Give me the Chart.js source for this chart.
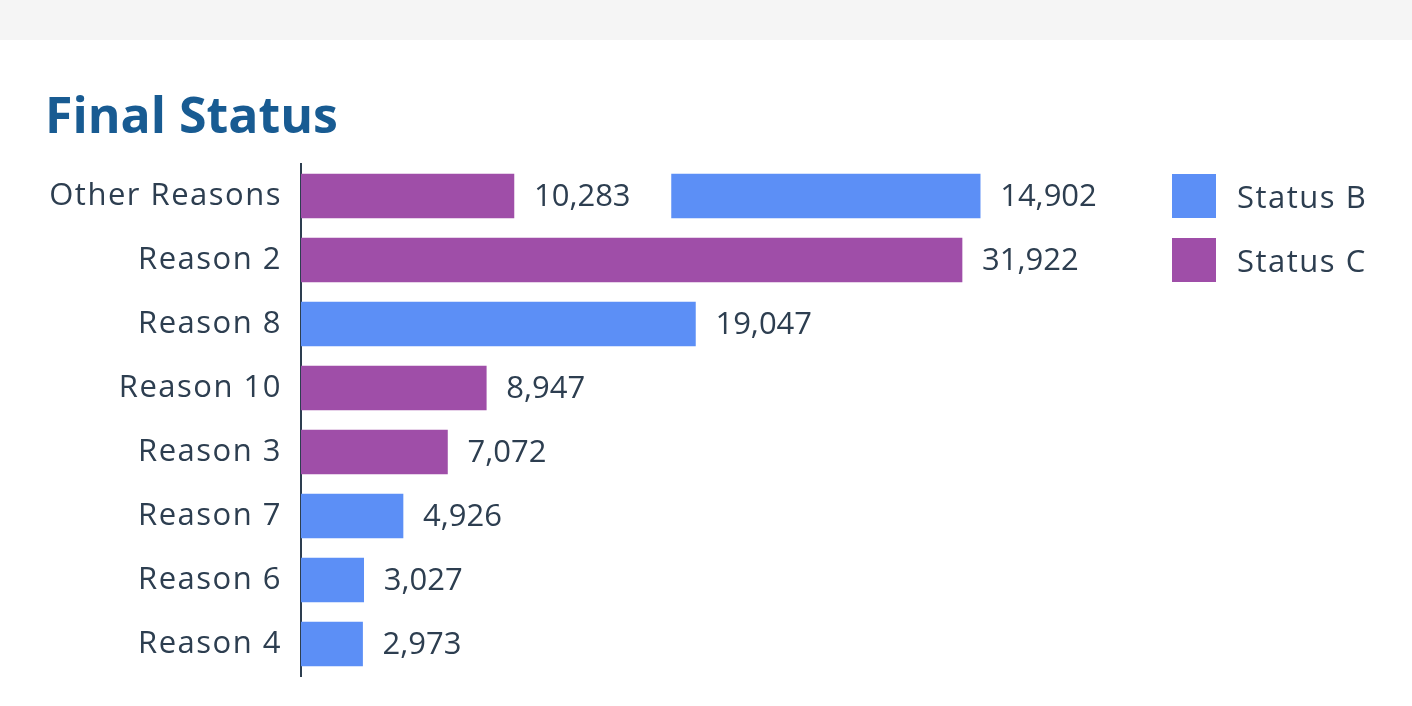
<!DOCTYPE html>
<html>
<head>
<meta charset="utf-8">
<script src="https://cdn.jsdelivr.net/npm/chart.js@4"></script>
<style>
  html, body { margin: 0; padding: 0; background: #fff; }
  body { width: 1412px; height: 706px; position: relative; overflow: hidden; font-family: "Open Sans", sans-serif; }
  .topbar { position: absolute; left: 0; top: 0; width: 1412px; height: 40px; background: #f5f5f5; }
  h1 { position: absolute; left: 45px; top: 89px; margin: 0; font-size: 50px; font-weight: 700; color: #185b92; line-height: 1; }
  #chart { position: absolute; left: 0; top: 0; }
  #legend { position: absolute; left: 1172px; top: 174px; }
  .item { display: flex; align-items: center; height: 44px; margin-bottom: 20px; font-size: 31px; letter-spacing: 1.5px; color: #2d3e50; }
  .swatch { width: 44px; height: 44px; margin-right: 21px; }
</style>
</head>
<body>
<div class="topbar"></div>
<h1>Final Status</h1>
<canvas id="chart" width="1412" height="706"></canvas>
<div id="legend"></div>
<script>
const categories = ['Other Reasons', 'Reason 2', 'Reason 8', 'Reason 10', 'Reason 3', 'Reason 7', 'Reason 6', 'Reason 4'];
const statusB = [14902, null, 19047, null, null, 4926, 3027, 2973];
const statusC = [10283, 31922, null, 8947, 7072, null, null, null];

const textColor = '#2d3e50';
const fontFamily = '"Open Sans", sans-serif';
const valueFont = `31px ${fontFamily}`;
const fmt = v => v.toLocaleString('en-US');

// wider tracking for the category labels, plain for the rest
const tracking = {
    id: 'tracking',
    beforeDraw(chart) { chart.ctx.letterSpacing = '1.5px'; },
    beforeDatasetsDraw(chart) { chart.ctx.letterSpacing = '0px'; }
};

const valueLabels = {
    id: 'valueLabels',
    afterDatasetsDraw(chart) {
        const ctx = chart.ctx;
        ctx.save();
        ctx.font = valueFont;
        ctx.fillStyle = textColor;
        ctx.textBaseline = 'middle';
        ctx.textAlign = 'left';
        chart.data.datasets.forEach((ds, i) => {
            chart.getDatasetMeta(i).data.forEach((bar, j) => {
                const v = ds.values[j];
                if (v == null) return;
                ctx.fillText(fmt(v), bar.x + 20, bar.y + 1);
            });
        });
        ctx.restore();
    }
};

const chart = new Chart(document.getElementById('chart'), {
    type: 'bar',
    data: {
        labels: categories,
        datasets: [{
            label: 'Status B',
            values: statusB,
            data: statusB.slice(),
            backgroundColor: '#5c8ff6',
            grouped: false,
            barThickness: 44,
        }, {
            label: 'Status C',
            values: statusC,
            data: statusC.slice(),
            backgroundColor: '#9f4ea8',
            grouped: false,
            barThickness: 44,
        }]
    },
    options: {
        indexAxis: 'y',
        responsive: false,
        animation: false,
        devicePixelRatio: 1,
        layout: { padding: { top: 164, bottom: 30, left: 45, right: 262 } },
        plugins: { legend: { display: false }, tooltip: { enabled: false } },
        scales: {
            x: { display: false, min: 0, max: 41000 },
            y: {
                grid: { display: false, drawTicks: false },
                border: { display: true, color: textColor, width: 2 },
                ticks: { color: textColor, padding: 19, font: { family: fontFamily, size: 31 } },
                afterFit(scale) {
                    scale.width = 256;
                    scale.paddingTop = 0;
                    scale.paddingBottom = 0;
                }
            }
        }
    },
    plugins: [tracking, valueLabels]
});

// where both statuses share a row, move Status B right past the Status C label
const ctx = chart.ctx;
ctx.save();
ctx.letterSpacing = '0px';
ctx.font = valueFont;
const x = chart.scales.x;
statusB.forEach((b, i) => {
    const c = statusC[i];
    if (b == null || c == null) return;
    const gap = ctx.measureText(fmt(c)).width + 20 + 41;
    const start = x.getValueForPixel(x.getPixelForValue(c) + gap);
    chart.data.datasets[0].data[i] = [start, start + b];
});
ctx.restore();
chart.update();

const legend = document.getElementById('legend');
chart.data.datasets.forEach(ds => {
    const item = document.createElement('div');
    item.className = 'item';
    item.innerHTML = `<span class="swatch" style="background:${ds.backgroundColor}"></span>${ds.label}`;
    legend.appendChild(item);
});
</script>
</body>
</html>
